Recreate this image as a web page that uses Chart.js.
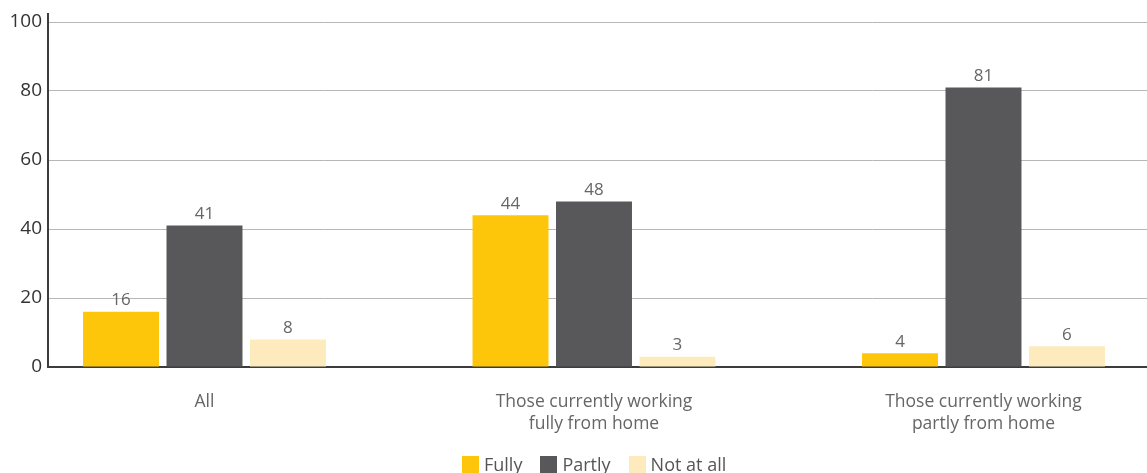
<!DOCTYPE html>
<html>
<head>
<meta charset="utf-8">
<script src="https://cdn.jsdelivr.net/npm/chart.js@4/dist/chart.umd.min.js"></script>
<style>
    html, body { margin: 0; padding: 0; background: #fff; }
    #wrap { width: 1147px; height: 473px; position: relative; }
    #legend {
        position: absolute; left: 462px; top: 452px;
        display: flex; align-items: center;
        font: 18px "Open Sans", "DejaVu Sans", sans-serif; color: #555;
        white-space: nowrap;
    }
    #legend .item { display: flex; align-items: center; margin-right: 18px; }
    #legend .swatch { width: 17px; height: 17px; margin-right: 5px; }
</style>
</head>
<body>
<div id="wrap">
    <canvas id="chart"></canvas>
    <div id="legend"></div>
</div>
<script>
// Working from home survey - share answering fully / partly / not at all
const categories = [
    'All',
    ['Those currently working', 'fully from home'],
    ['Those currently working', 'partly from home']
];
const seriesNames = ['Fully', 'Partly', 'Not at all'];
const fullyValues = [16, 44, 4];
const partlyValues = [41, 48, 81];
const notAtAllValues = [8, 3, 6];
const yTicks = [0, 20, 40, 60, 80, 100];

const seriesColors = ['#fec60b', '#58585a', '#feebbd'];
const FONT = '"Open Sans", "DejaVu Sans", sans-serif';

const toPoints = arr => arr.map((v, i) => ({ x: i, y: v }));

// value labels above each bar
const barLabels = {
    id: 'barLabels',
    afterDatasetsDraw(chart) {
        const ctx = chart.ctx;
        ctx.save();
        ctx.font = '17px ' + FONT;
        ctx.fillStyle = '#666666';
        ctx.textAlign = 'center';
        ctx.textBaseline = 'bottom';
        chart.data.datasets.forEach((ds, di) => {
            chart.getDatasetMeta(di).data.forEach((bar, i) => {
                ctx.fillText(String(ds.data[i].y), bar.x, bar.y - 3);
            });
        });
        ctx.restore();
    }
};

// y axis line runs a little past the top gridline
const axisCap = {
    id: 'axisCap',
    afterDraw(chart) {
        const { ctx, chartArea } = chart;
        ctx.save();
        ctx.strokeStyle = '#3c3c3c';
        ctx.lineWidth = 2;
        ctx.beginPath();
        ctx.moveTo(chartArea.left, chartArea.top - 9);
        ctx.lineTo(chartArea.left, chartArea.top);
        ctx.stroke();
        ctx.restore();
    }
};

const chart = new Chart(document.getElementById('chart'), {
    type: 'bar',
    data: {
        datasets: [
            { label: seriesNames[0], data: toPoints(fullyValues), backgroundColor: seriesColors[0] },
            { label: seriesNames[1], data: toPoints(partlyValues), backgroundColor: seriesColors[1] },
            { label: seriesNames[2], data: toPoints(notAtAllValues), backgroundColor: seriesColors[2] }
        ]
    },
    options: {
        responsive: true,
        maintainAspectRatio: false,
        animation: false,
        categoryPercentage: 0.643,
        barPercentage: 0.91,
        layout: { padding: { top: 22, right: 0, left: 0, bottom: 36 } },
        plugins: {
            tooltip: { enabled: false },
            legend: { display: false }
        },
        scales: {
            x: {
                type: 'linear',
                min: -0.4018,
                max: 2.4198,
                offset: false,
                grid: { display: false },
                border: { display: true, color: '#3c3c3c', width: 2 },
                afterBuildTicks: scale => {
                    scale.ticks = categories.map((c, i) => ({ value: i }));
                },
                afterFit: scale => { scale.height = 70; },
                ticks: {
                    padding: 16,
                    color: '#666666',
                    font: { family: FONT, size: 17.5, lineHeight: 1.26 },
                    maxRotation: 0,
                    autoSkip: false,
                    callback: value => categories[value]
                }
            },
            y: {
                min: 0,
                max: 100,
                grid: { color: '#b7b7b7', lineWidth: 1, drawTicks: false },
                border: { display: true, color: '#3c3c3c', width: 2 },
                afterBuildTicks: scale => {
                    scale.ticks = yTicks.map(v => ({ value: v }));
                },
                afterFit: scale => { scale.width = 48; },
                ticks: {
                    padding: 6,
                    color: '#333333',
                    font: { family: FONT, size: 19 }
                }
            }
        }
    },
    plugins: [barLabels, axisCap]
});

// legend drawn as plain markup below the canvas
const legend = document.getElementById('legend');
chart.data.datasets.forEach(ds => {
    const item = document.createElement('span');
    item.className = 'item';
    item.innerHTML = `<span class="swatch" style="background:${ds.backgroundColor}"></span>${ds.label}`;
    legend.appendChild(item);
});
</script>
</body>
</html>
